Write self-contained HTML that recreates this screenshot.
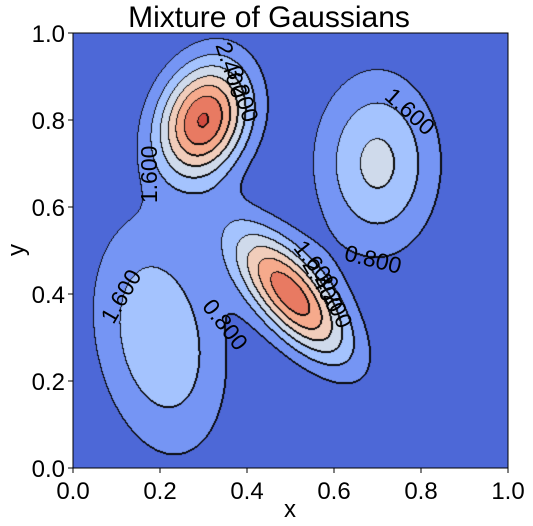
<!DOCTYPE html>
<html><head><meta charset="utf-8"><style>
body{margin:0;background:#fff;width:533px;height:526px;overflow:hidden;font-family:"Liberation Sans",sans-serif}
#wrap{position:relative;width:533px;height:526px}
canvas{position:absolute;left:73px;top:33px}
svg{position:absolute;left:0;top:0}
</style></head><body><div id="wrap">
<canvas id="cv" width="435" height="435"></canvas>
<svg id="sv" width="533" height="526"></svg>
</div>
<script>
// Mixture components
const compX=[0.30,0.50,0.70,0.20];
const compY=[0.80,0.40,0.70,0.30];
const compAmp=[5.65,5.3,2.6,2.35];
const compSigMajor=[0.097,0.13,0.14,0.185];
const compSigMinor=[0.07,0.055,0.095,0.10];
const compAngleDeg=[70,-50,90,100];
const levels=[0.8,1.6,2.4,3.2,4.0,4.8,5.6];
const xTicks=[0,0.2,0.4,0.6,0.8,1.0];
const yTicks=[0,0.2,0.4,0.6,0.8,1.0];
const labelText=["1.600","0.800","1.600","2.400","3.200","1.600","0.800","1.600","2.400","3.200"];
const labelX=[0.11,0.35,0.175,0.365,0.39,0.775,0.69,0.56,0.575,0.6];
const labelY=[0.395,0.33,0.675,0.915,0.86,0.82,0.48,0.465,0.42,0.385];
const labelRot=[-60,52,-90,72,72,42,14,52,60,65];

const L=73,T=33,W=435,H=435;
const sx=v=>L+v*W, sy=v=>T+(1-v)*H;
const colors=[[77,104,215],[117,149,244],[164,195,254],[207,218,235],[241,205,187],[246,170,140],[232,122,98],[210,75,64]];
function f(x,y){let s=0;for(let i=0;i<compX.length;i++){const a=compAngleDeg[i]*Math.PI/180,dx=x-compX[i],dy=y-compY[i];
const u=dx*Math.cos(a)+dy*Math.sin(a),v=-dx*Math.sin(a)+dy*Math.cos(a);
s+=compAmp[i]*Math.exp(-(u*u/(2*compSigMajor[i]**2)+v*v/(2*compSigMinor[i]**2)));}return s;}
function band(z){let b=0;for(const l of levels){if(z>=l)b++;}return b;}
const cv=document.getElementById('cv'),ctx=cv.getContext('2d');
const img=ctx.createImageData(W,H);const B=new Array(W*H);
for(let j=0;j<H;j++)for(let i=0;i<W;i++){B[j*W+i]=band(f((i+0.5)/W,1-(j+0.5)/H));}
for(let j=0;j<H;j++)for(let i=0;i<W;i++){const k=j*W+i;let c=colors[B[k]];
let edge=(i+1<W&&B[k+1]!==B[k])||(j+1<H&&B[k+W]!==B[k])||(i>0&&B[k-1]>B[k])||(j>0&&B[k-W]>B[k]);
if(edge)c=[10,10,10];img.data[k*4]=c[0];img.data[k*4+1]=c[1];img.data[k*4+2]=c[2];img.data[k*4+3]=255;}
ctx.putImageData(img,0,0);
const NS='http://www.w3.org/2000/svg',sv=document.getElementById('sv');
function mk(t,a,txt){const e=document.createElementNS(NS,t);for(const k in a)e.setAttribute(k,a[k]);if(txt!==undefined)e.textContent=txt;sv.appendChild(e);return e;}
for(let i=0;i<labelText.length;i++){
const e=mk('text',{x:sx(labelX[i]),y:sy(labelY[i]),'font-size':23,'text-anchor':'middle','dominant-baseline':'central',fill:'#000',transform:`rotate(${labelRot[i]} ${sx(labelX[i])} ${sy(labelY[i])})`},labelText[i]);

}
const fr=mk('rect',{x:L,y:T,width:W,height:H,fill:'none',stroke:'#000','stroke-width':1});


xTicks.forEach(v=>{const t=mk('line',{x1:sx(v),x2:sx(v),y1:T+H,y2:T+H+5,stroke:'#000'});


const l=mk('text',{x:sx(v),y:T+H+31,'font-size':24,'text-anchor':'middle'},v.toFixed(1));

});
yTicks.forEach(v=>{const t=mk('line',{x1:L-5,x2:L,y1:sy(v),y2:sy(v),stroke:'#000'});


const l=mk('text',{x:L-8,y:sy(v)+9,'font-size':24,'text-anchor':'end'},v.toFixed(1));

});
const ti=mk('text',{x:269,y:27,'font-size':30,'text-anchor':'middle'},'Mixture of Gaussians');


const xl=mk('text',{x:290,y:517,'font-size':24,'text-anchor':'middle'},'x');


const yl=mk('text',{x:24,y:250,'font-size':24,'text-anchor':'middle',transform:'rotate(-90 24 250)'},'y');


</script></body></html>
